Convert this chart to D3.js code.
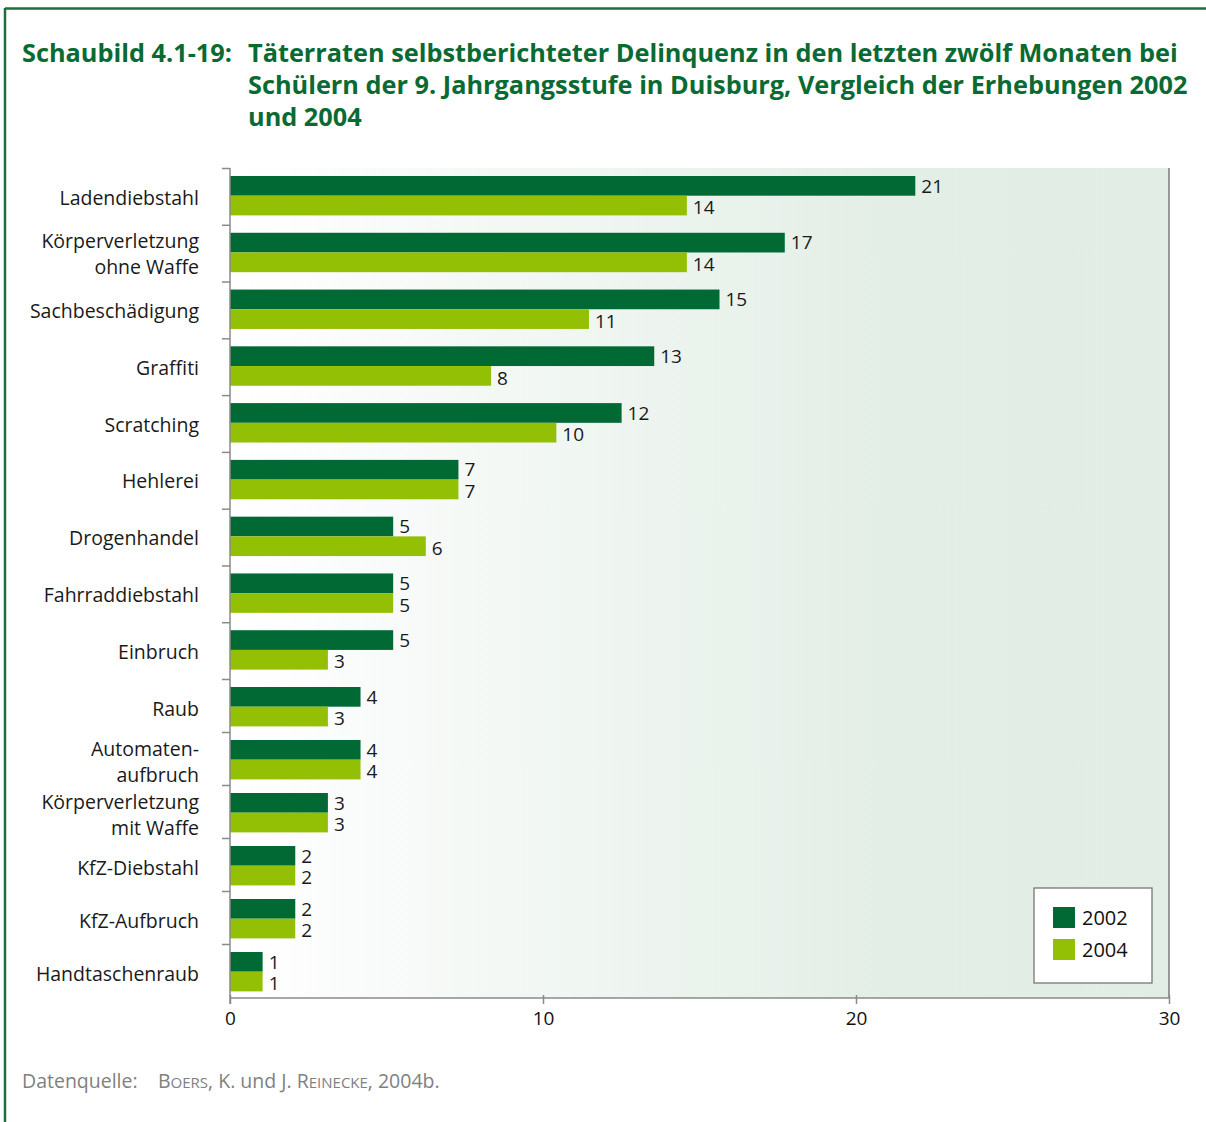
<!DOCTYPE html>
<html><head><meta charset="utf-8">
<script src="https://cdn.jsdelivr.net/npm/d3@7"></script>
<style>
html,body{margin:0;padding:0;background:#fff;}
svg{display:block;font-family:"Open Sans","Noto Sans",sans-serif;}
</style></head>
<body>
<svg id="chart" width="1206" height="1122"></svg>
<script>
const categories = ["Ladendiebstahl","Körperverletzung\nohne Waffe","Sachbeschädigung","Graffiti","Scratching","Hehlerei","Drogenhandel","Fahrraddiebstahl","Einbruch","Raub","Automaten-\naufbruch","Körperverletzung\nmit Waffe","KfZ-Diebstahl","KfZ-Aufbruch","Handtaschenraub"];
const values2002 = [21,17,15,13,12,7,5,5,5,4,4,3,2,2,1];
const values2004 = [14,14,11,8,10,7,6,5,3,3,4,3,2,2,1];
const seriesNames = ["2002","2004"];
const xTicks = [0,10,20,30];
const titleLabel = "Schaubild 4.1-19:";
const titleLines = ["Täterraten selbstberichteter Delinquenz in den letzten zwölf Monaten bei","Schülern der 9. Jahrgangsstufe in Duisburg, Vergleich der Erhebungen 2002","und 2004"];

const svg = d3.select("#chart");
const green = "#0a6a33", c2002 = "#006934", c2004 = "#93c005";

// frame
svg.append("line").attr("x1",5).attr("x2",1206).attr("y1",8.5).attr("y2",8.5).attr("stroke","#1b6f3e").attr("stroke-width",2.5);
svg.append("line").attr("x1",5).attr("x2",5).attr("y1",8).attr("y2",1122).attr("stroke","#1b6f3e").attr("stroke-width",2.5);

// title
const tl = svg.append("text").attr("x",22).attr("y",62).attr("fill",green).attr("font-weight","bold").attr("font-size",24).text(titleLabel);
const tlines = svg.selectAll("text.tline").data(titleLines).join("text").attr("class","tline")
  .attr("x",248).attr("y",(d,i)=>62+i*32).attr("fill",green).attr("font-weight","bold").attr("font-size",24).text(d=>d);
const w0 = tlines.nodes()[0].getComputedTextLength();
const fs = 24*930/w0;
tlines.attr("font-size",fs);
tl.attr("font-size",fs);

// scales
const x0 = 230, x1 = 1169, yTop = 168, yBot = 998;
const xAxisScale = d3.scaleLinear().domain([0,30]).range([x0,x1]);
const barLen = d3.scaleLinear().domain([0,30]).range([0,979]);
const idx = d3.range(categories.length);
const yPos = d3.scaleLinear().domain([0,9,14]).range([176,687,952]);
const bh = 19.7;

// background gradient
const defs = svg.append("defs");
const grad = defs.append("linearGradient").attr("id","bg").attr("x1","0%").attr("x2","100%").attr("y1","0%").attr("y2","0%");
grad.append("stop").attr("offset","0%").attr("stop-color","#ffffff");
grad.append("stop").attr("offset","70%").attr("stop-color","#e3eee6");
grad.append("stop").attr("offset","100%").attr("stop-color","#e2ede5");
svg.append("rect").attr("x",x0).attr("y",yTop).attr("width",x1-x0).attr("height",yBot-yTop).attr("fill","url(#bg)");

// bars
const g = svg.append("g");
g.selectAll("rect.b02").data(idx).join("rect").attr("class","b02")
  .attr("x",xAxisScale(0)).attr("y",i=>yPos(i)).attr("width",i=>barLen(values2002[i])).attr("height",bh).attr("fill",c2002);
g.selectAll("rect.b04").data(idx).join("rect").attr("class","b04")
  .attr("x",xAxisScale(0)).attr("y",i=>yPos(i)+bh).attr("width",i=>barLen(values2004[i])).attr("height",bh).attr("fill",c2004);

// value labels
g.selectAll("text.v02").data(idx).join("text").attr("class","v02")
  .attr("x",i=>xAxisScale(0)+barLen(values2002[i])+6).attr("y",i=>yPos(i)+bh/2).attr("dy","0.35em")
  .attr("font-size",19).attr("fill","#1a1a1a").text(i=>values2002[i]);
g.selectAll("text.v04").data(idx).join("text").attr("class","v04")
  .attr("x",i=>xAxisScale(0)+barLen(values2004[i])+6).attr("y",i=>yPos(i)+bh*1.5+2).attr("dy","0.35em")
  .attr("font-size",19).attr("fill","#1a1a1a").text(i=>values2004[i]);

// axes lines
const axisCol = "#8a8a8a";
svg.append("line").attr("x1",x1).attr("x2",x1).attr("y1",yTop).attr("y2",yBot).attr("stroke","#7a7a7a").attr("stroke-width",1.5);
svg.append("line").attr("x1",x0).attr("x2",x0).attr("y1",yTop).attr("y2",yBot+6).attr("stroke",axisCol).attr("stroke-width",1.5);
svg.append("line").attr("x1",x0).attr("x2",x1).attr("y1",yBot).attr("y2",yBot).attr("stroke",axisCol).attr("stroke-width",1.5);

// category ticks
svg.selectAll("line.ct").data(idx).join("line").attr("class","ct")
  .attr("x1",x0-8).attr("x2",x0).attr("y1",i=>yPos(i)-7.5).attr("y2",i=>yPos(i)-7.5)
  .attr("stroke",axisCol).attr("stroke-width",1.5);

// x axis ticks
const xa = svg.append("g").attr("transform",`translate(0,${yBot})`)
  .call(d3.axisBottom(xAxisScale).tickValues(xTicks).tickSize(6).tickPadding(8).tickFormat(d3.format("d")));
xa.select(".domain").remove();
xa.selectAll(".tick line").attr("stroke",axisCol).attr("stroke-width",1.5).attr("y1",-3);
xa.selectAll(".tick text").attr("font-size",19).attr("fill","#111").attr("font-family","'Open Sans','Noto Sans',sans-serif");

// category labels
const cl = svg.selectAll("text.cat").data(idx).join("text").attr("class","cat")
  .attr("text-anchor","end").attr("font-size",19.5).attr("fill","#1a1a1a");
cl.each(function(i){
  const lines = categories[i].split("\n");
  const cy = yPos(i)+bh+2;
  const t = d3.select(this);
  lines.forEach((ln,k)=>{
    t.append("tspan").attr("x",199).attr("y",cy+(k-(lines.length-1)/2)*26).attr("dy","0.35em").text(ln);
  });
});

// legend
const lg = svg.append("g");
lg.append("rect").attr("x",1034).attr("y",888).attr("width",118).attr("height",95).attr("fill","#fff").attr("stroke","#777").attr("stroke-width",1.3);
lg.selectAll("rect.sw").data(seriesNames).join("rect").attr("class","sw")
  .attr("x",1053).attr("y",(d,i)=>907+i*32).attr("width",22).attr("height",21).attr("fill",(d,i)=>i?c2004:c2002);
lg.selectAll("text.lt").data(seriesNames).join("text").attr("class","lt")
  .attr("x",1082).attr("y",(d,i)=>918+i*32).attr("dy","0.35em").attr("font-size",20).attr("fill","#111").text(d=>d);

// footer
const ft = svg.append("text").attr("x",22).attr("y",1088).attr("font-size",19.5).attr("fill","#808080");
ft.append("tspan").text("Datenquelle:");
const src = svg.append("text").attr("x",158).attr("y",1088).attr("font-size",19.5).attr("fill","#808080");
src.append("tspan").text("B");
src.append("tspan").attr("font-size",15).text("OERS");
src.append("tspan").text(", K. und J. R");
src.append("tspan").attr("font-size",15).text("EINECKE");
src.append("tspan").text(", 2004b.");
</script>
</body></html>
